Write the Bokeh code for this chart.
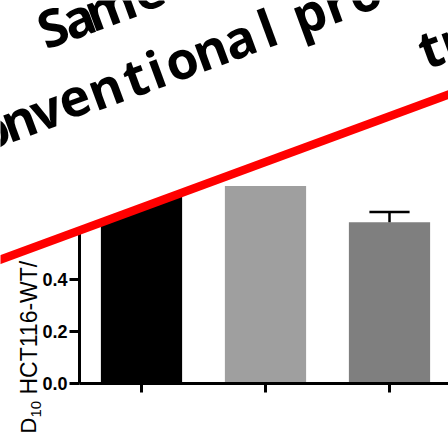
import numpy as np
from bokeh.plotting import figure
from bokeh.models import (Range1d, FixedTicker, PrintfTickFormatter, Label,
                          PolyAnnotation, ColumnDataSource)
from bokeh.embed import file_html
from bokeh.resources import INLINE

# --- data -------------------------------------------------------------
bar_pos = [1, 2, 3]
d10_ratio = [0.82, 0.76, 0.62]
d10_err = [0.0, 0.0, 0.04]
bar_colors = ["#000000", "#9f9f9f", "#7f7f7f"]
y_ticks = [0.0, 0.2, 0.4, 0.6, 0.8, 1.0, 1.2, 1.4]
y_title = ["D", "10", "HCT116-WT/"]   # main, subscript, rest

caption_lines = ["Same", "conventional pro", "tr"]
# distance of each glyph centre along its baseline (px)
caption_offsets = [
    [60, 87, 121, 162],
    [-62, -32, -4, 25, 55, 88, 120, 142, 169, 200, 231, 261, 305, 334, 364],
    [407, 430],
]

# --- layout: the plot frame fills the whole canvas ---------------------
W, H = 448, 436
PX_X, PX_Y = 124.0, 260.0      # pixels per data unit
X1_PX, Y0_PX = 141.0, 383.0    # pixel column of bar 1, pixel row of y = 0

def cx(px):
    return 1 + (px - X1_PX) / PX_X

def cy(py):
    return (Y0_PX - py) / PX_Y

p = figure(width=W, height=H, output_backend="svg", toolbar_location=None,
           title=None,
           x_range=Range1d(cx(0), cx(W)), y_range=Range1d(cy(H), cy(0)),
           min_border_left=0, min_border_bottom=0,
           min_border_top=0, min_border_right=0)
p.outline_line_color = None
p.grid.visible = False
p.background_fill_color = "white"
p.border_fill_color = "white"

src = ColumnDataSource(dict(x=bar_pos, top=d10_ratio, color=bar_colors))
p.vbar(x="x", top="top", width=0.655, color="color", line_color=None, source=src)

# upper error whiskers
err_x = [x for x, e in zip(bar_pos, d10_err) if e > 0]
err_lo = [v for v, e in zip(d10_ratio, d10_err) if e > 0]
err_hi = [v + e for v, e in zip(d10_ratio, d10_err) if e > 0]
p.segment(x0=err_x, y0=err_lo, x1=err_x, y1=err_hi, line_color="black", line_width=2.5)
p.segment(x0=[x - 0.162 for x in err_x], y0=err_hi, x1=[x + 0.162 for x in err_x],
          y1=err_hi, line_color="black", line_width=2.5)

# axes sit inside the frame at fixed data positions
xa = p.xaxis[0]
xa.fixed_location = 0
xa.bounds = (0.5, 5)
xa.ticker = FixedTicker(ticks=bar_pos)
xa.major_label_overrides = {v: "" for v in bar_pos}
xa.axis_line_width = 3
xa.major_tick_line_width = 3
xa.major_tick_out = 9
xa.major_tick_in = 0
xa.minor_tick_line_color = None

ya = p.yaxis[0]
ya.fixed_location = 0.5
ya.bounds = (0, 1.4)
ya.ticker = FixedTicker(ticks=y_ticks)
ya.formatter = PrintfTickFormatter(format="%.1f")
ya.axis_line_width = 3
ya.major_tick_line_width = 3
ya.major_tick_out = 10
ya.major_tick_in = 0
ya.minor_tick_line_color = None
ya.major_label_standoff = 2
ya.major_label_text_font = "Liberation Sans"
ya.major_label_text_font_style = "bold"
ya.major_label_text_font_size = "18px"
ya.major_label_text_color = "black"

# vertical axis title, with a real subscript
title_font = "Liberation Sans"
for txt, px, py, size in [(y_title[0], 28, 433, "22px"),
                          (y_title[1], 35, 417, "15px"),
                          (y_title[2], 28, 394, "23px")]:
    p.add_layout(Label(x=cx(px), y=cy(py), text=txt, angle=90, angle_units="deg",
                       text_align="left", text_baseline="alphabetic",
                       text_font=title_font, text_font_size=size,
                       text_color="black"))

# white cover above the red stroke
ang = np.deg2rad(20.2)
slope = np.tan(ang)
def red_y(px):
    return 259.0 - slope * px

mx = [-30, 480, 480, -30]
my = [red_y(-30), red_y(480), -40, -40]
p.add_layout(PolyAnnotation(xs=[cx(v) for v in mx], ys=[cy(v) for v in my],
                            fill_color="white", fill_alpha=1.0, line_color=None))

half = 4.5
rx = [-30, 480, 480, -30]
ry = [red_y(-30) - half, red_y(480) - half, red_y(480) + half, red_y(-30) + half]
p.add_layout(PolyAnnotation(xs=[cx(v) for v in rx], ys=[cy(v) for v in ry],
                            fill_color="#ff0000", fill_alpha=1.0, line_color=None))

# tilted caption, one glyph at a time
d = np.array([np.cos(ang), -np.sin(ang)])
nrm = np.array([np.sin(ang), np.cos(ang)])
origin = np.array([28.1, 134.3]) - 19 * nrm
LINE_GAP = 75
for i, (line, offs) in enumerate(zip(caption_lines, caption_offsets)):
    base = origin + (i - 1) * LINE_GAP * nrm
    for ch, a in zip(line.replace(" ", ""), offs):
        pt = base + a * d
        p.add_layout(Label(x=cx(pt[0]), y=cy(pt[1]), text=ch, angle=20.2,
                           angle_units="deg", text_align="center",
                           text_baseline="alphabetic", text_font="Open Sans",
                           text_font_style="bold", text_font_size="52px",
                           text_color="black"))

open("out.html", "w").write(file_html(p, INLINE))
